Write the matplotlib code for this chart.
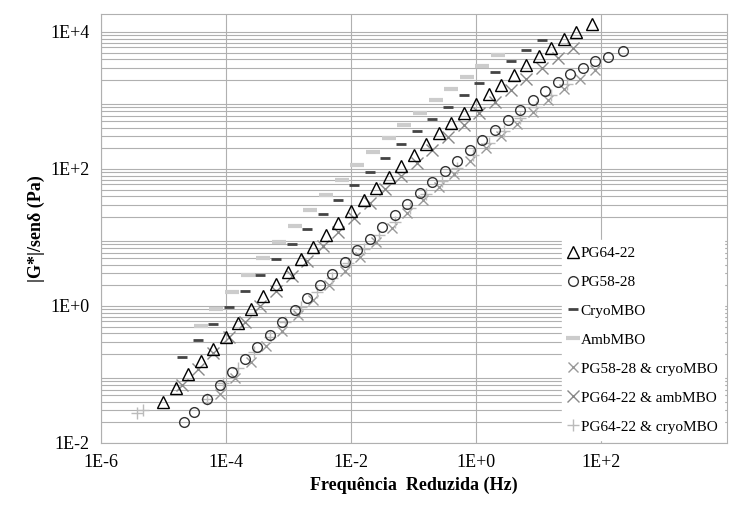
import numpy as np
import matplotlib.pyplot as plt

plt.rcParams['font.family'] = ['Liberation Serif', 'DejaVu Serif']

# log10 of reduced frequency (Hz) and log10 of |G*|/sin(delta) (Pa)
f_pg6422 = [-5.0, -4.8, -4.6, -4.4, -4.2, -4.0, -3.8, -3.6, -3.4, -3.2, -3.0, -2.8, -2.6, -2.4, -2.2, -2.0, -1.8, -1.6,
            -1.4, -1.2, -1.0, -0.8, -0.6, -0.4, -0.2, 0.0, 0.2, 0.4, 0.6, 0.8, 1.0, 1.2, 1.4, 1.6, 1.85]
g_pg6422 = [-1.40, -1.20, -1.00, -0.81, -0.63, -0.45, -0.25, -0.05, 0.14, 0.32, 0.50, 0.68, 0.86, 1.04, 1.21, 1.38,
            1.55, 1.72, 1.88, 2.04, 2.20, 2.36, 2.52, 2.67, 2.81, 2.95, 3.09, 3.23, 3.37, 3.51, 3.65, 3.77, 3.89, 4.00, 4.12]

f_pg5828 = [-4.66, -4.5, -4.3, -4.1, -3.9, -3.7, -3.5, -3.3, -3.1, -2.9, -2.7, -2.5, -2.3, -2.1, -1.9, -1.7, -1.5, -1.3,
            -1.1, -0.9, -0.7, -0.5, -0.3, -0.1, 0.1, 0.3, 0.5, 0.7, 0.9, 1.1, 1.3, 1.5, 1.7, 1.9, 2.1, 2.35]
g_pg5828 = [-1.70, -1.55, -1.36, -1.16, -0.96, -0.78, -0.60, -0.42, -0.24, -0.06, 0.12, 0.30, 0.47, 0.64, 0.81, 0.98,
            1.15, 1.32, 1.49, 1.65, 1.81, 1.97, 2.12, 2.27, 2.42, 2.57, 2.72, 2.86, 3.00, 3.14, 3.27, 3.38, 3.48, 3.57, 3.64, 3.72]

f_cryo = [-4.7, -4.45, -4.2, -3.95, -3.7, -3.45, -3.2, -2.95, -2.7, -2.45, -2.2, -1.95, -1.7, -1.45, -1.2, -0.95,
          -0.7, -0.45, -0.2, 0.05, 0.3, 0.55, 0.8, 1.05]
g_cryo = [-0.75, -0.50, -0.26, -0.02, 0.22, 0.45, 0.68, 0.90, 1.12, 1.34, 1.55, 1.76, 1.96, 2.16, 2.36, 2.55, 2.73,
          2.91, 3.08, 3.25, 3.42, 3.58, 3.73, 3.88]

f_amb = [-4.4, -4.15, -3.9, -3.65, -3.4, -3.15, -2.9, -2.65, -2.4, -2.15, -1.9, -1.65, -1.4, -1.15, -0.9, -0.65,
         -0.4, -0.15, 0.1, 0.35]
g_amb = [-0.30, -0.05, 0.20, 0.45, 0.70, 0.94, 1.17, 1.40, 1.62, 1.84, 2.05, 2.25, 2.45, 2.64, 2.82, 3.00, 3.17,
         3.34, 3.50, 3.66]

f_5828c = [-4.1, -3.85, -3.6, -3.35, -3.1, -2.85, -2.6, -2.35, -2.1, -1.85, -1.6, -1.35, -1.1, -0.85, -0.6, -0.35,
           -0.1, 0.15, 0.4, 0.65, 0.9, 1.15, 1.4, 1.65, 1.9]
g_5828c = [-1.28, -1.05, -0.82, -0.59, -0.36, -0.14, 0.08, 0.30, 0.51, 0.72, 0.93, 1.14, 1.35, 1.55, 1.74, 1.93,
           2.12, 2.30, 2.48, 2.66, 2.83, 3.00, 3.16, 3.31, 3.45]

f_6422a = [-4.7, -4.45, -4.2, -3.95, -3.7, -3.45, -3.2, -2.95, -2.7, -2.45, -2.2, -1.95, -1.7, -1.45, -1.2, -0.95,
           -0.7, -0.45, -0.2, 0.05, 0.3, 0.55, 0.8, 1.05, 1.3, 1.55]
g_6422a = [-1.15, -0.92, -0.69, -0.46, -0.23, 0.00, 0.22, 0.44, 0.66, 0.87, 1.08, 1.29, 1.50, 1.70, 1.90, 2.09,
           2.28, 2.46, 2.64, 2.81, 2.98, 3.15, 3.31, 3.47, 3.62, 3.76]

f_6422c = [-5.42, -5.32, -4.3, -4.05, -3.8, -3.55, -3.3, -3.05, -2.8, -2.55, -2.3, -2.05, -1.8, -1.55, -1.3, -1.05,
           -0.8, -0.55, -0.3, -0.05, 0.2, 0.45, 0.7, 0.95, 1.2, 1.45]
g_6422c = [-1.57, -1.52, -1.36, -1.13, -0.90, -0.67, -0.45, -0.23, -0.01, 0.20, 0.41, 0.62, 0.83, 1.03, 1.23, 1.43,
           1.63, 1.82, 2.01, 2.20, 2.38, 2.56, 2.74, 2.91, 3.08, 3.24]

series = [
    ("PG64-22", f_pg6422, g_pg6422, dict(marker='^', mfc='none', mec='black', ms=8, zorder=5)),
    ("PG58-28", f_pg5828, g_pg5828, dict(marker='o', mfc='none', mec='#333333', ms=7, zorder=5)),
    ("CryoMBO", f_cryo, g_cryo, dict(marker='_', mec='#444444', ms=7, mew=2)),
    ("AmbMBO", f_amb, g_amb, dict(marker='_', mec='#cccccc', ms=10, mew=3)),
    ("PG58-28 & cryoMBO", f_5828c, g_5828c, dict(marker='x', mec='#999999', ms=7)),
    ("PG64-22 & ambMBO", f_6422a, g_6422a, dict(marker='x', mec='#888888', ms=8)),
    ("PG64-22 & cryoMBO", f_6422c, g_6422c, dict(marker='+', mec='#bbbbbb', ms=8)),
]

fig, ax = plt.subplots(figsize=(7.34, 5.15), dpi=100)
for name, f, g, st in series:
    ax.plot(10 ** np.array(f), 10 ** np.array(g), linestyle='none', label=name, **st)

ax.set_xscale('log')
ax.set_yscale('log')
ax.set_xlim(1e-6, 1e4)
ax.set_ylim(1e-2, 1.8e4)
ax.set_xticks([1e-6, 1e-4, 1e-2, 1e0, 1e2])
ax.set_xticklabels(['1E-6', '1E-4', '1E-2', '1E+0', '1E+2'])
ax.set_yticks([1e-2, 1e0, 1e2, 1e4])
ax.set_yticklabels(['1E-2', '1E+0', '1E+2', '1E+4'])
ax.tick_params(labelsize=13, which='both', length=0, pad=8)
ax.grid(True, which='both', color='#b0b0b0', lw=0.8)
for s in ax.spines.values():
    s.set_color('#b0b0b0')
ax.set_xlabel('Frequência  Reduzida (Hz)', fontsize=13, fontweight='bold')
ax.set_ylabel('|G*|/senδ (Pa)', fontsize=13, fontweight='bold')
leg = ax.legend(loc='lower right', fontsize=11, frameon=True, fancybox=False,
                edgecolor='white', framealpha=1, handlelength=0.6, handletextpad=0.2,
                labelspacing=1.0, borderaxespad=0.2)
fig.subplots_adjust(left=0.137, right=0.99, top=0.972, bottom=0.14)
fig.savefig('out.png')
